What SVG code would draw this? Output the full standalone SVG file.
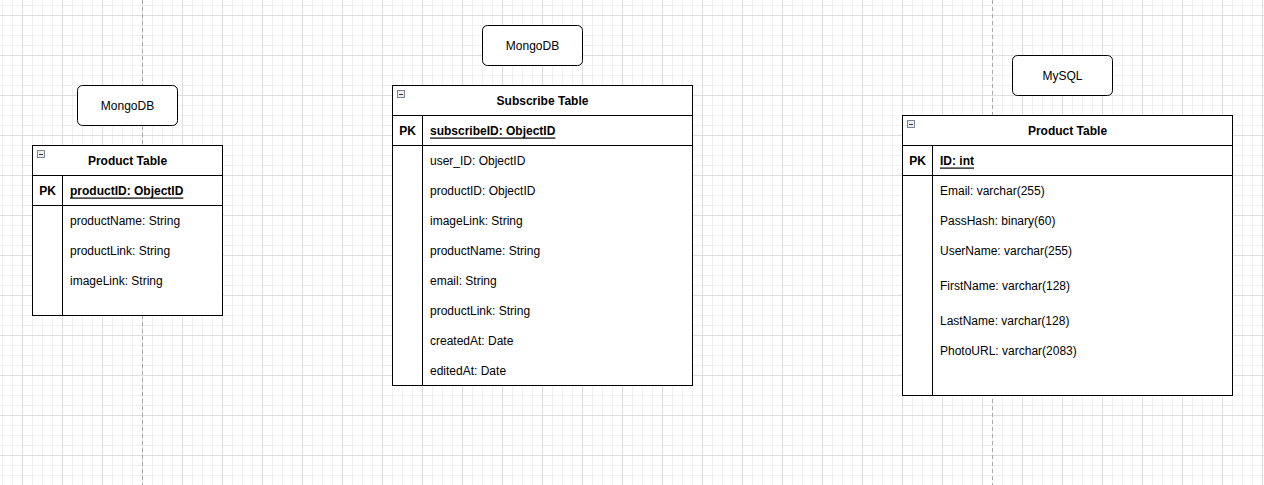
<svg xmlns="http://www.w3.org/2000/svg" width="1264" height="485" viewBox="0 0 1264 485">
<style>
text{font-family:"Liberation Sans",Arial,Helvetica,sans-serif;font-size:12px;fill:#000;dominant-baseline:central}
.t{font-weight:bold;text-anchor:middle}
.pk{font-weight:bold;text-anchor:middle}
.pkf{font-weight:bold;text-decoration:underline}
.box{fill:#fff;stroke:#000;stroke-width:1}
.ln{stroke:#000;stroke-width:1;fill:none}
.lbl{fill:#fff;stroke:#000;stroke-width:1}
.c{text-anchor:middle}
.pb{stroke:#aaa;stroke-width:1;stroke-dasharray:4 3}
</style>
<defs>
<pattern id="grid" patternUnits="userSpaceOnUse" x="2" y="5" width="40" height="40">
<path d="M0.5 0V40M10.5 0V40M30.5 0V40M0 0.5H40M20 0.5H40M0 20.5H40M0 30.5H40" stroke="#f0f0f0" stroke-width="1" fill="none"/>
<path d="M0 0.5H40" stroke="#f0f0f0"/>
<path d="M20.5 0V40M0 10.5H40" stroke="#dedede" stroke-width="1" fill="none"/>
</pattern>
<g id="col">
<rect x="0.5" y="0.5" width="7" height="7" fill="#eee" stroke="#7a8595" stroke-width="1"/>
<path d="M2 4.5H6" stroke="#333" stroke-width="1"/>
</g>
</defs>
<rect width="1264" height="485" fill="#fff"/>
<rect width="1264" height="485" fill="url(#grid)"/>
<line class="pb" x1="142.5" y1="0" x2="142.5" y2="485"/>
<line class="pb" x1="992.5" y1="0" x2="992.5" y2="485"/>

<g id="label-mongodb-1">
<rect class="lbl" x="77.5" y="85.5" width="100" height="40" rx="5"/>
<text class="c" x="127.5" y="105.5">MongoDB</text>
</g>
<g id="label-mongodb-2">
<rect class="lbl" x="482.5" y="25.5" width="100" height="40" rx="5"/>
<text class="c" x="532.5" y="45.5">MongoDB</text>
</g>
<g id="label-mysql">
<rect class="lbl" x="1012.5" y="55.5" width="100" height="40" rx="5"/>
<text class="c" x="1062.5" y="75.5">MySQL</text>
</g>

<g id="table-product-mongo">
<rect class="box" x="32.5" y="145.5" width="190" height="170"/>
<use href="#col" x="37" y="150"/>
<text class="t" x="127.5" y="160.5">Product Table</text>
<path class="ln" d="M32.5 175.5H222.5M32.5 205.5H222.5M62.5 175.5V315.5"/>
<text class="pk" x="47.5" y="190.5">PK</text>
<text class="pkf" x="70" y="190.5">productID: ObjectID</text>
<text x="70" y="220.5">productName: String</text>
<text x="70" y="250.5">productLink: String</text>
<text x="70" y="280.5">imageLink: String</text>
</g>

<g id="table-subscribe">
<rect class="box" x="392.5" y="85.5" width="300" height="300"/>
<use href="#col" x="397" y="90"/>
<text class="t" x="542.5" y="100.5">Subscribe Table</text>
<path class="ln" d="M392.5 115.5H692.5M392.5 145.5H692.5M422.5 115.5V385.5"/>
<text class="pk" x="407.5" y="130.5">PK</text>
<text class="pkf" x="430" y="130.5">subscribeID: ObjectID</text>
<text x="430" y="160.5">user_ID: ObjectID</text>
<text x="430" y="190.5">productID: ObjectID</text>
<text x="430" y="220.5">imageLink: String</text>
<text x="430" y="250.5">productName: String</text>
<text x="430" y="280.5">email: String</text>
<text x="430" y="310.5">productLink: String</text>
<text x="430" y="340.5">createdAt: Date</text>
<text x="430" y="370.5">editedAt: Date</text>
</g>

<g id="table-product-mysql">
<rect class="box" x="902.5" y="115.5" width="330" height="280"/>
<use href="#col" x="907" y="120"/>
<text class="t" x="1067.5" y="130.5">Product Table</text>
<path class="ln" d="M902.5 145.5H1232.5M902.5 175.5H1232.5M932.5 145.5V395.5"/>
<text class="pk" x="917.5" y="160.5">PK</text>
<text class="pkf" x="940" y="160.5">ID: int</text>
<text x="940" y="190.5">Email: varchar(255)</text>
<text x="940" y="220.5">PassHash: binary(60)</text>
<text x="940" y="250.5">UserName: varchar(255)</text>
<text x="940" y="285.5">FirstName: varchar(128)</text>
<text x="940" y="320.5">LastName: varchar(128)</text>
<text x="940" y="350.5">PhotoURL: varchar(2083)</text>
</g>
<g id="connectors"></g>
</svg>
